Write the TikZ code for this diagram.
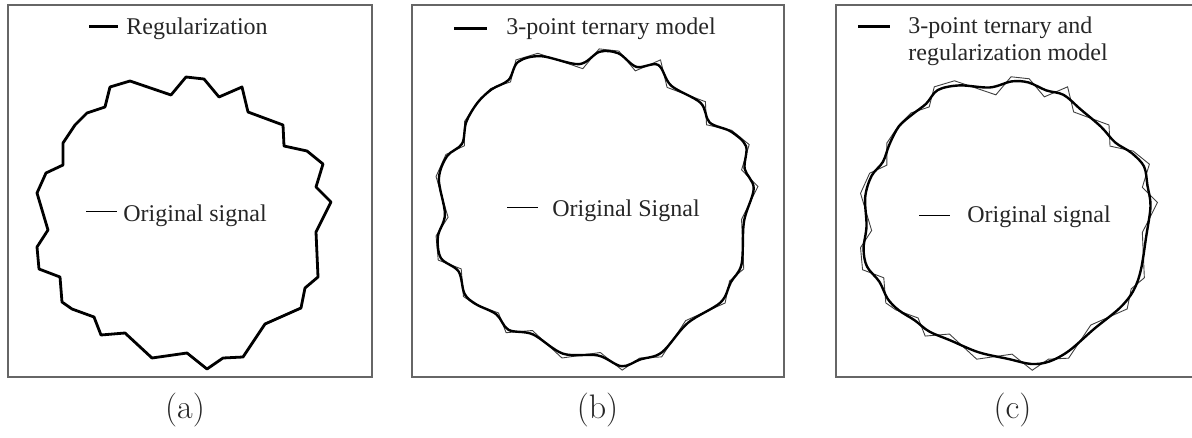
\documentclass[tikz,border=0pt]{standalone}
\usepackage{fontspec}
\setmainfont{Liberation Serif}
\newfontfamily\lmfont{Latin Modern Roman}
\usetikzlibrary{calc}

\def\pts{110/87,130/81,171/95,186/77,204/79,219/97,242/87,248/112,283/125,284/146,307/151,323/164,316/187,331/202,316/232,318/277,305/288,301/308,265/324,243/357,223/358,207/369,187/353,152/358,125/333,101/335,94/317,72/309,62/302,60/277,39/269,37/247,48/230,37/193,46/173,63/165,63/143,75/125,87/113,105/107}

\newcommand\mkpts{%
  \foreach \x/\y [count=\i] in \pts {%
    \expandafter\xdef\csname ptx\i\endcsname{\x}%
    \expandafter\xdef\csname pty\i\endcsname{\y}%
  }}

% #1 cx, #2 cy, #3 sx, #4 sy, #5 w
\newcommand\mklists[5]{%
  \gdef\plist{}\gdef\slist{}%
  \foreach \i in {1,...,40}{%
    \pgfmathtruncatemacro\ip{mod(\i,40)+1}%
    \pgfmathtruncatemacro\im{mod(\i+38,40)+1}%
    \edef\xa{\csname ptx\i\endcsname}\edef\ya{\csname pty\i\endcsname}%
    \edef\xp{\csname ptx\ip\endcsname}\edef\yp{\csname pty\ip\endcsname}%
    \edef\xm{\csname ptx\im\endcsname}\edef\ym{\csname pty\im\endcsname}%
    \pgfmathsetmacro\ax{#1+#3*(\xa-184)}%
    \pgfmathsetmacro\ay{#2+#4*(\ya-223)}%
    \pgfmathsetmacro\bx{#1+#3*((1-2*#5)*\xa+#5*(\xp+\xm)-184)}%
    \pgfmathsetmacro\by{#2+#4*((1-2*#5)*\ya+#5*(\yp+\ym)-223)}%
    \xdef\plist{\plist (\ax,\ay)}%
    \xdef\slist{\slist (\bx,\by)}%
  }}

\tikzset{
  frame/.style={draw=black!60, line width=0.75pt},
  thicksig/.style={draw=black, line width=1.4pt, line join=round},
  thinsig/.style={draw=black!75, line width=0.45pt, line join=miter},
  legtxt/.style={anchor=base west, inner sep=0pt, text=black!85, font=\fontsize{12}{13}\selectfont},
  sublabel/.style={anchor=center, inner sep=0pt, text=black!85, font=\lmfont\fontsize{17}{20}\selectfont},
}

\begin{document}
\begin{tikzpicture}[x=0.5pt, y=-0.5pt]
\useasboundingbox (0,0) rectangle (1192,438);
\mkpts

% frames
\draw[frame] (8,5) rectangle (372,377);
\draw[frame] (412,5) rectangle (784,377);
\draw[frame] (836,5) rectangle (1200,377);

% ----- panel (a)
\mklists{184}{223}{1}{1}{0}
\edef\tmp{\noexpand\draw[thicksig] plot[sharp cycle] coordinates {\plist};}\tmp
\coordinate (la1) at (89,27); \coordinate (la2) at (118,27);
\draw[line width=1.5pt] (la1) -- (la2);
\node[legtxt] (ta1) at (126,35) {Regularization};
\coordinate (lo1) at (86,212); \coordinate (lo2) at (117,212);
\draw[line width=0.5pt] (lo1) -- (lo2);
\node[legtxt] (to1) at (123,221) {Original signal};
\node[sublabel] (A) at (185,410) {(a)};

% ----- panel (b)
\mklists{597}{209.5}{1.095}{1.1}{0.13}
\edef\tmp{\noexpand\draw[thinsig] plot[sharp cycle] coordinates {\plist};}\tmp
\edef\tmp{\noexpand\draw[thicksig, line width=1.2pt] plot[smooth cycle, tension=0.55] coordinates {\slist};}\tmp
\coordinate (lb1) at (454,29); \coordinate (lb2) at (487,29);
\draw[line width=1.5pt] (lb1) -- (lb2);
\node[legtxt] (tb1) at (506,35) {3-point ternary model};
\coordinate (lob1) at (507,208); \coordinate (lob2) at (538,208);
\draw[line width=0.5pt] (lob1) -- (lob2);
\node[legtxt] (tob1) at (552,217) {Original Signal};
\node[sublabel] (B) at (597.5,410) {(b)};

% ----- panel (c)
\mklists{1009}{223.5}{1.01}{1.005}{0.23}
\edef\tmp{\noexpand\draw[thinsig] plot[sharp cycle] coordinates {\plist};}\tmp
\edef\tmp{\noexpand\draw[thicksig, line width=1.2pt] plot[smooth cycle, tension=0.55] coordinates {\slist};}\tmp
\coordinate (lc1) at (858,27); \coordinate (lc2) at (890,27);
\draw[line width=1.5pt] (lc1) -- (lc2);
\node[legtxt] (tc1) at (908,34) {3-point ternary and};
\node[legtxt] (tc2) at (908,61) {regularization model};
\coordinate (loc1) at (919,216); \coordinate (loc2) at (950,216);
\draw[line width=0.5pt] (loc1) -- (loc2);
\node[legtxt] (toc1) at (967,222) {Original signal};
\node[sublabel] (C) at (1012.5,410) {(c)};
\end{tikzpicture}
\end{document}
